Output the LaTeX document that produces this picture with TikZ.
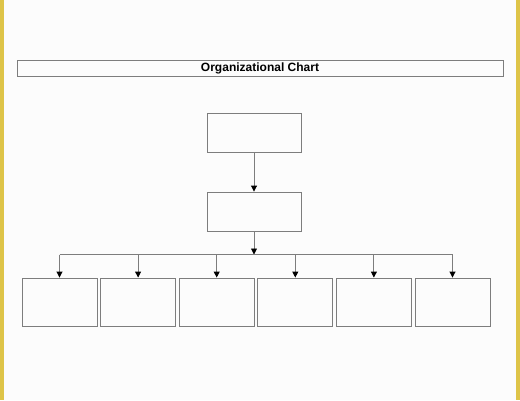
\documentclass[tikz,border=0pt]{standalone}
\usepackage{fontspec}
\setmainfont{Liberation Sans}
\definecolor{edgegold}{RGB}{222, 196, 72}
\definecolor{boxgray}{RGB}{125, 125, 125}
\definecolor{paper}{RGB}{252, 252, 252}
\usetikzlibrary{arrows.meta, positioning}

\begin{document}
\begin{tikzpicture}[x=1pt, y=-1pt,
    postbox/.style={draw=boxgray, line width=0.9pt, minimum width=#1, inner sep=0pt},
    link/.style={draw=boxgray, line width=0.9pt},
    drop/.style={link, -{Triangle[width=6pt, length=6pt, color=black]}}]
  % page and side strips
  \useasboundingbox (0,0) rectangle (520,400);
  \fill[paper] (0,0) rectangle (520,400);
  \fill[edgegold] (0,0) rectangle (3.5,400);
  \fill[edgegold] (516,0) rectangle (520,400);

  % title bar
  \node[postbox=486pt, minimum height=16pt, font=\fontsize{12}{14}\selectfont\bfseries] (title) at (260,68.5) {Organizational Chart};

  % head and deputy
  \node[postbox=94pt, minimum height=39pt] (head) at (254,132.5) {};
  \node[postbox=94pt, minimum height=39pt] (deputy) at (254,211.5) {};
  \coordinate (split) at (254,254.5);

  % bottom row
  \foreach \i in {1,...,6}
    \node[postbox=75pt, minimum height=48pt] (unit\i) at ({59.5+78.6*(\i-1)},302) {};

  \draw[drop] (head) -- (deputy);
  \draw[drop] (deputy) -- (split);
  \draw[link] (split -| unit1) -- (split -| unit6);
  \foreach \i in {1,...,6}
    \draw[drop] (split -| unit\i) -- (unit\i.north);
\end{tikzpicture}
\end{document}
